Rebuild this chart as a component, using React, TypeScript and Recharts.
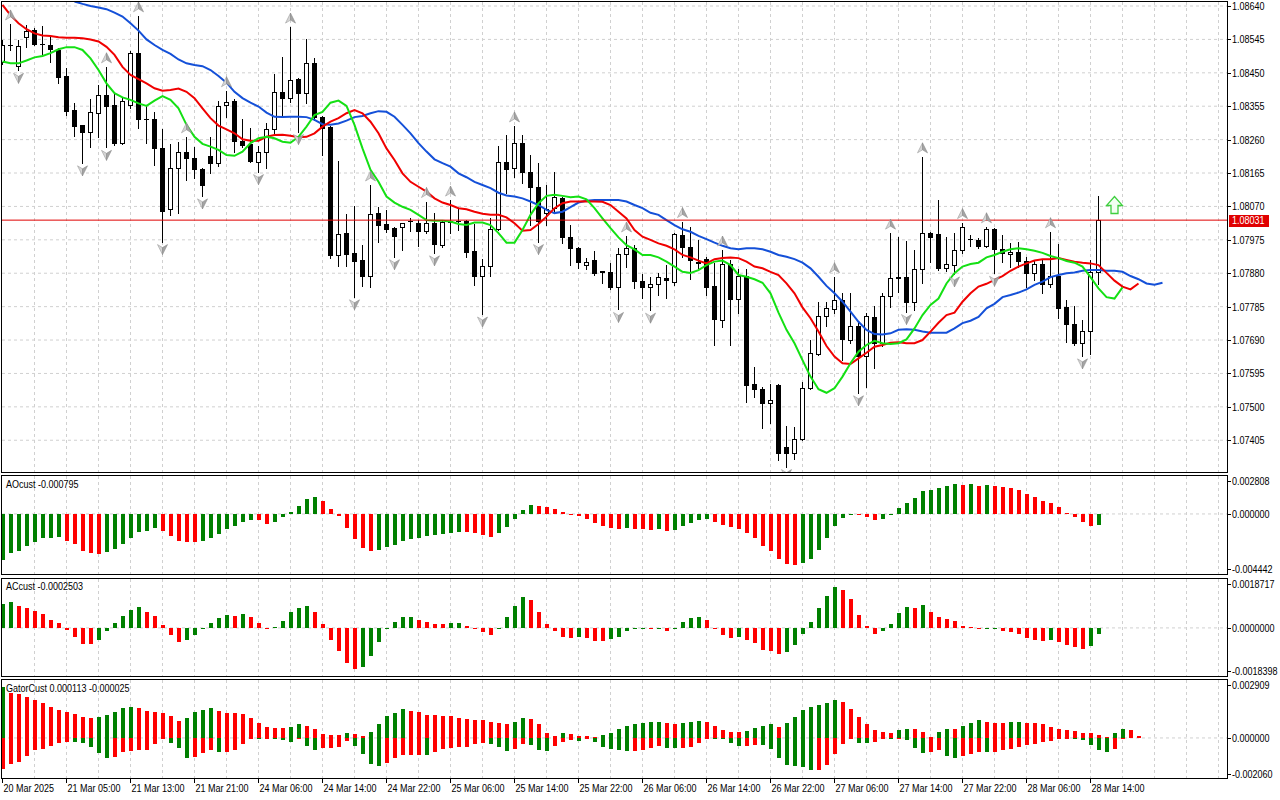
import React from "react";
import { ComposedChart, Bar, Line, Scatter, XAxis, YAxis, ReferenceLine, CartesianGrid } from "recharts";

const FONT = "'Liberation Sans',Arial,'DejaVu Sans',sans-serif";
const FS = 11;
const SQUEEZE = 0.82;

// ---------- candles (EURUSD H1) ----------
const opens = [
  1.08482,1.08530,1.08469,1.08551,1.08572,1.08531,1.08529,1.08515,1.08441,1.08344,
  1.08302,1.08283,1.08337,1.08387,1.08359,1.08251,1.08359,1.08506,1.08318,1.08319,
  1.08235,1.08062,1.08178,1.08224,1.08207,1.08176,1.08213,1.08194,1.08359,1.08371,
  1.08257,1.08248,1.08197,1.08226,1.08289,1.08395,1.08378,1.08432,1.08392,1.08479,
  1.08325,1.08297,1.07932,1.07994,1.07937,1.07918,1.07872,1.08050,1.08020,1.08008,
  1.08012,1.08028,1.08024,1.08001,1.08022,1.07960,1.08027,1.08029,1.08029,1.07943,
  1.07872,1.07901,1.08006,1.08197,1.08178,1.08250,1.08167,1.08124,1.08050,1.08065,
  1.08093,1.07982,1.07951,1.07903,1.07918,1.07885,1.07884,1.07840,1.07935,1.07951,
  1.07858,1.07840,1.07849,1.07867,1.07856,1.07989,1.07955,1.07908,1.07920,1.07844,
  1.07747,1.07905,1.07806,1.07873,1.07565,1.07550,1.07512,1.07562,1.07385,1.07368,
  1.07408,1.07553,1.07650,1.07758,1.07778,1.07804,1.07690,1.07730,1.07645,1.07755,
  1.07681,1.07815,1.07870,1.07870,1.07799,1.07891,1.07994,1.07991,1.07894,1.07903,
  1.07946,1.07977,1.07975,1.07957,1.08005,1.07948,1.07935,1.07941,1.07916,1.07881,
  1.07905,1.07849,1.07872,1.07783,1.07736,1.07682,1.07717,1.07884,
];
const highs = [
  1.08543,1.08589,1.08543,1.08586,1.08577,1.08583,1.08553,1.08521,1.08463,1.08364,
  1.08303,1.08375,1.08415,1.08467,1.08392,1.08382,1.08513,1.08612,1.08356,1.08339,
  1.08289,1.08248,1.08254,1.08268,1.08240,1.08178,1.08267,1.08371,1.08399,1.08375,
  1.08318,1.08292,1.08242,1.08306,1.08447,1.08496,1.08580,1.08434,1.08545,1.08491,
  1.08327,1.08299,1.08199,1.08048,1.08071,1.07960,1.08131,1.08068,1.08060,1.08012,
  1.08024,1.08036,1.08031,1.08084,1.08050,1.08031,1.08088,1.08062,1.08031,1.08020,
  1.07920,1.08036,1.08242,1.08273,1.08299,1.08273,1.08216,1.08193,1.08131,1.08167,
  1.08096,1.08017,1.07955,1.07922,1.07944,1.07886,1.07908,1.07951,1.07986,1.07960,
  1.07878,1.07869,1.07881,1.07903,1.07994,1.08027,1.08012,1.07975,1.07927,1.07908,
  1.07946,1.07918,1.07891,1.07891,1.07614,1.07556,1.07564,1.07564,1.07446,1.07442,
  1.07572,1.07690,1.07799,1.07799,1.07870,1.07825,1.07825,1.07742,1.07766,1.07787,
  1.07825,1.07994,1.07982,1.07973,1.07946,1.08211,1.07997,1.08088,1.07982,1.07994,
  1.08024,1.07989,1.07979,1.08012,1.08008,1.07989,1.07965,1.07968,1.07927,1.07918,
  1.07918,1.07998,1.07963,1.07804,1.07787,1.07747,1.07918,1.08100,
];
const lows = [
  1.08475,1.08515,1.08457,1.08524,1.08529,1.08504,1.08482,1.08420,1.08330,1.08270,
  1.08194,1.08240,1.08267,1.08238,1.08245,1.08248,1.08349,1.08292,1.08250,1.08188,
  1.07970,1.08046,1.08050,1.08145,1.08150,1.08100,1.08164,1.08186,1.08324,1.08226,
  1.08240,1.08196,1.08169,1.08178,1.08278,1.08330,1.08368,1.08283,1.08363,1.08316,
  1.08216,1.07922,1.07901,1.07901,1.07813,1.07844,1.07840,1.07970,1.07996,1.07927,
  1.07946,1.08001,1.07957,1.07994,1.07938,1.07955,1.07994,1.08003,1.07925,1.07847,
  1.07764,1.07872,1.08003,1.08109,1.08155,1.08137,1.08017,1.07970,1.08017,1.08050,
  1.07967,1.07903,1.07894,1.07891,1.07875,1.07853,1.07834,1.07777,1.07899,1.07837,
  1.07809,1.07775,1.07818,1.07810,1.07847,1.07927,1.07863,1.07894,1.07818,1.07676,
  1.07728,1.07676,1.07768,1.07515,1.07529,1.07439,1.07455,1.07349,1.07330,1.07351,
  1.07406,1.07550,1.07647,1.07730,1.07766,1.07633,1.07681,1.07540,1.07556,1.07610,
  1.07673,1.07785,1.07828,1.07771,1.07775,1.07853,1.07913,1.07889,1.07887,1.07878,
  1.07937,1.07957,1.07951,1.07954,1.07880,1.07913,1.07899,1.07899,1.07842,1.07861,
  1.07825,1.07842,1.07752,1.07685,1.07676,1.07645,1.07650,1.07849,
];
const closes = [
  1.08529,1.08529,1.08527,1.08570,1.08531,1.08532,1.08518,1.08439,1.08342,1.08299,
  1.08283,1.08338,1.08387,1.08356,1.08251,1.08371,1.08506,1.08318,1.08319,1.08235,
  1.08058,1.08178,1.08224,1.08207,1.08176,1.08130,1.08193,1.08356,1.08368,1.08257,
  1.08245,1.08199,1.08226,1.08289,1.08395,1.08378,1.08430,1.08392,1.08477,1.08325,
  1.08294,1.07932,1.07991,1.07935,1.07916,1.07872,1.08048,1.08017,1.08005,1.07986,
  1.08022,1.08029,1.08001,1.08022,1.07963,1.08027,1.08029,1.08028,1.07941,1.07872,
  1.07901,1.08006,1.08197,1.08176,1.08250,1.08169,1.08124,1.08029,1.08062,1.08096,
  1.07982,1.07951,1.07913,1.07911,1.07880,1.07884,1.07842,1.07935,1.07951,1.07858,
  1.07840,1.07849,1.07869,1.07861,1.07991,1.07955,1.07918,1.07913,1.07840,1.07749,
  1.07905,1.07806,1.07873,1.07562,1.07550,1.07510,1.07519,1.07370,1.07370,1.07408,
  1.07553,1.07652,1.07758,1.07780,1.07804,1.07692,1.07730,1.07645,1.07758,1.07681,
  1.07815,1.07866,1.07866,1.07799,1.07891,1.07994,1.07984,1.07894,1.07906,1.07946,
  1.08011,1.07978,1.07957,1.08005,1.07948,1.07937,1.07941,1.07916,1.07881,1.07905,
  1.07849,1.07872,1.07780,1.07736,1.07682,1.07717,1.07884,1.08031,
];

// ---------- Bill Williams fractals (bar indexes) ----------
const upFractals = [1,13,17,23,28,36,46,53,56,64,78,85,90,104,111,115,120,123,131];
const downFractals = [2,10,13,20,25,32,37,44,49,54,60,67,77,81,98,107,113,119,124,135];

// ---------- Alligator (values at drawn positions, incl. forward shift) ----------
const jawStart = 9;
const jaw = [
  1.08653,1.08646,1.08640,1.08636,1.08631,1.08621,1.08610,1.08591,1.08570,1.08545,
  1.08529,1.08515,1.08504,1.08488,1.08477,1.08472,1.08469,1.08458,1.08441,1.08422,
  1.08396,1.08378,1.08365,1.08354,1.08337,1.08325,1.08324,1.08325,1.08325,1.08324,
  1.08316,1.08304,1.08302,1.08306,1.08314,1.08324,1.08327,1.08335,1.08341,1.08339,
  1.08325,1.08302,1.08278,1.08250,1.08226,1.08204,1.08193,1.08183,1.08164,1.08153,
  1.08140,1.08131,1.08122,1.08109,1.08101,1.08098,1.08093,1.08084,1.08074,1.08060,
  1.08051,1.08055,1.08068,1.08081,1.08086,1.08088,1.08088,1.08088,1.08088,1.08084,
  1.08074,1.08065,1.08052,1.08046,1.08031,1.08017,1.08005,1.07998,1.07986,1.07977,
  1.07967,1.07958,1.07951,1.07948,1.07951,1.07951,1.07948,1.07941,1.07932,1.07927,
  1.07920,1.07910,1.07894,1.07870,1.07844,1.07823,1.07799,1.07771,1.07742,1.07719,
  1.07707,1.07706,1.07709,1.07719,1.07721,1.07719,1.07714,1.07711,1.07711,1.07711,
  1.07723,1.07738,1.07745,1.07756,1.07780,1.07793,1.07812,1.07818,1.07825,1.07834,
  1.07847,1.07856,1.07869,1.07875,1.07880,1.07882,1.07887,1.07889,1.07889,1.07887,
  1.07887,1.07884,1.07872,1.07863,1.07851,1.07847,1.07853,
];
const teeth = [
  1.08643,1.08614,1.08591,1.08574,1.08562,1.08556,1.08555,1.08551,1.08550,1.08550,
  1.08548,1.08545,1.08539,1.08524,1.08501,1.08467,1.08444,1.08432,1.08420,1.08406,
  1.08399,1.08401,1.08405,1.08396,1.08378,1.08349,1.08321,1.08300,1.08289,1.08278,
  1.08261,1.08257,1.08257,1.08268,1.08273,1.08274,1.08271,1.08267,1.08268,1.08278,
  1.08297,1.08311,1.08321,1.08335,1.08344,1.08335,1.08311,1.08278,1.08235,1.08202,
  1.08164,1.08140,1.08126,1.08112,1.08093,1.08081,1.08074,1.08065,1.08062,1.08055,
  1.08049,1.08046,1.08046,1.08039,1.08022,1.08001,1.08003,1.08020,1.08041,1.08065,
  1.08079,1.08084,1.08084,1.08085,1.08084,1.08083,1.08074,1.08055,1.08036,1.08003,
  1.07984,1.07975,1.07965,1.07958,1.07948,1.07932,1.07925,1.07916,1.07908,1.07920,
  1.07923,1.07925,1.07923,1.07913,1.07899,1.07894,1.07884,1.07875,1.07851,1.07823,
  1.07783,1.07752,1.07714,1.07673,1.07643,1.07624,1.07622,1.07638,1.07654,1.07671,
  1.07676,1.07682,1.07684,1.07681,1.07681,1.07690,1.07714,1.07739,1.07761,1.07768,
  1.07799,1.07823,1.07842,1.07850,1.07861,1.07872,1.07887,1.07899,1.07908,1.07916,
  1.07920,1.07920,1.07923,1.07918,1.07913,1.07910,1.07908,1.07903,1.07881,1.07859,
  1.07842,1.07834,1.07851,
];
const lips = [
  1.08482,1.08477,1.08477,1.08485,1.08494,1.08498,1.08506,1.08517,1.08523,1.08523,
  1.08515,1.08491,1.08458,1.08420,1.08392,1.08380,1.08373,1.08363,1.08356,1.08371,
  1.08384,1.08373,1.08349,1.08302,1.08268,1.08248,1.08240,1.08231,1.08216,1.08214,
  1.08226,1.08250,1.08264,1.08268,1.08264,1.08254,1.08251,1.08268,1.08297,1.08330,
  1.08339,1.08365,1.08371,1.08356,1.08302,1.08235,1.08174,1.08140,1.08098,1.08081,
  1.08069,1.08060,1.08046,1.08031,1.08029,1.08029,1.08027,1.08020,1.08017,1.08024,
  1.08024,1.08017,1.07994,1.07967,1.07967,1.08003,1.08046,1.08079,1.08100,1.08103,
  1.08100,1.08096,1.08098,1.08090,1.08065,1.08036,1.08008,1.07982,1.07960,1.07948,
  1.07932,1.07932,1.07925,1.07913,1.07899,1.07884,1.07881,1.07889,1.07903,1.07913,
  1.07916,1.07903,1.07875,1.07870,1.07863,1.07853,1.07823,1.07768,1.07719,1.07681,
  1.07633,1.07586,1.07550,1.07540,1.07553,1.07586,1.07624,1.07657,1.07676,1.07688,
  1.07681,1.07679,1.07681,1.07692,1.07723,1.07761,1.07790,1.07808,1.07851,1.07880,
  1.07899,1.07906,1.07910,1.07925,1.07932,1.07941,1.07948,1.07951,1.07948,1.07944,
  1.07938,1.07929,1.07923,1.07915,1.07910,1.07899,1.07869,1.07837,1.07812,1.07808,
  1.07840,
];

// ---------- Awesome Oscillator ----------
const aoValues = [
  -0.00340,-0.00291,-0.00271,-0.00234,-0.00205,-0.00180,-0.00178,-0.00173,-0.00197,-0.00224,
  -0.00271,-0.00291,-0.00298,-0.00284,-0.00261,-0.00224,-0.00180,-0.00136,-0.00123,-0.00106,
  -0.00123,-0.00160,-0.00200,-0.00205,-0.00206,-0.00197,-0.00180,-0.00146,-0.00113,-0.00091,
  -0.00062,-0.00044,-0.00047,-0.00076,-0.00057,-0.00025,0.00017,0.00062,0.00109,0.00123,
  0.00099,0.00035,-0.00015,-0.00106,-0.00187,-0.00254,-0.00271,-0.00266,-0.00247,-0.00229,
  -0.00200,-0.00185,-0.00180,-0.00163,-0.00155,-0.00148,-0.00143,-0.00131,-0.00136,-0.00138,
  -0.00155,-0.00173,-0.00143,-0.00099,-0.00039,0.00030,0.00067,0.00062,0.00054,0.00039,
  0.00017,-0.00005,-0.00017,-0.00039,-0.00069,-0.00091,-0.00106,-0.00113,-0.00106,-0.00113,
  -0.00114,-0.00121,-0.00113,-0.00128,-0.00121,-0.00091,-0.00069,-0.00047,-0.00039,-0.00062,
  -0.00084,-0.00099,-0.00113,-0.00143,-0.00180,-0.00239,-0.00276,-0.00335,-0.00372,-0.00380,
  -0.00365,-0.00335,-0.00269,-0.00180,-0.00091,-0.00032,-0.00002,-0.00010,-0.00025,-0.00047,
  -0.00039,-0.00010,0.00047,0.00084,0.00121,0.00173,0.00180,0.00195,0.00210,0.00224,
  0.00217,0.00218,0.00210,0.00217,0.00210,0.00202,0.00195,0.00180,0.00150,0.00128,
  0.00099,0.00084,0.00054,0.00010,-0.00025,-0.00062,-0.00091,-0.000795,
];
const aoScale = { max: 0.002808, min: -0.004442 };

// ---------- Accelerator Oscillator ----------
const acValues = [
  0.00092,0.00100,0.00085,0.00077,0.00066,0.00054,0.00032,0.00019,-0.00009,-0.00036,
  -0.00060,-0.00061,-0.00045,-0.00013,0.00017,0.00047,0.00070,0.00080,0.00061,0.00045,
  0.00011,-0.00026,-0.00055,-0.00045,-0.00029,-0.00004,0.00019,0.00037,0.00048,0.00047,
  0.00054,0.00041,0.00019,-0.00006,0.00003,0.00028,0.00061,0.00077,0.00083,0.00061,
  0.00015,-0.00045,-0.00087,-0.00134,-0.00156,-0.00151,-0.00106,-0.00054,-0.00003,0.00023,
  0.00042,0.00043,0.00031,0.00023,0.00015,0.00014,0.00017,0.00019,0.00006,-0.00003,
  -0.00017,-0.00026,-0.00003,0.00042,0.00083,0.00119,0.00107,0.00061,0.00015,-0.00013,
  -0.00033,-0.00037,-0.00036,-0.00037,-0.00049,-0.00050,-0.00041,-0.00033,-0.00010,-0.00006,
  -0.00003,-0.00006,-0.00002,-0.00010,-0.00001,0.00023,0.00038,0.00042,0.00031,-0.00003,
  -0.00026,-0.00037,-0.00036,-0.00045,-0.00056,-0.00083,-0.00087,-0.00098,-0.00094,-0.00064,
  -0.00022,0.00023,0.00077,0.00123,0.00157,0.00146,0.00111,0.00050,0.00008,-0.00022,
  -0.00013,0.00015,0.00057,0.00080,0.00077,0.00088,0.00061,0.00042,0.00034,0.00027,
  0.00008,0.00004,-0.00006,-0.00003,-0.00001,-0.00010,-0.00014,-0.00022,-0.00037,-0.00045,
  -0.00049,-0.00048,-0.00054,-0.00064,-0.00072,-0.00079,-0.00068,-0.0002503,
];
const acScale = { max: 0.0018717, min: -0.0018398 };

// ---------- Gator Oscillator ----------
const gatorUpper = [
  0.002535,0.002248,0.002231,0.002079,0.001893,0.001741,0.001538,0.001386,0.001284,0.001183,
  0.001031,0.001014,0.001048,0.001132,0.001284,0.001487,0.001538,0.001487,0.001335,0.001284,
  0.001234,0.001082,0.000828,0.000980,0.001284,0.001386,0.001487,0.001335,0.001251,0.001234,
  0.001200,0.000980,0.000744,0.000575,0.000507,0.000490,0.000575,0.000676,0.000608,0.000473,
  0.000220,0.000169,0.000152,0.000254,0.000203,0.000101,0.000304,0.000693,0.001082,0.001234,
  0.001437,0.001369,0.001284,0.001132,0.001130,0.001115,0.001082,0.000980,0.000930,0.000913,
  0.000879,0.000777,0.000744,0.000676,0.000777,0.000980,0.000930,0.000676,0.000270,0.000118,
  0.000270,0.000220,0.000118,0.000085,0.000051,0.000169,0.000270,0.000473,0.000625,0.000676,
  0.000727,0.000777,0.000794,0.000727,0.000676,0.000727,0.000777,0.000828,0.000777,0.000625,
  0.000423,0.000321,0.000304,0.000372,0.000524,0.000625,0.000676,0.000575,0.000727,0.001031,
  0.001386,0.001538,0.001639,0.001741,0.001893,0.001791,0.001437,0.001031,0.000676,0.000423,
  0.000321,0.000270,0.000423,0.000473,0.000456,0.000321,0.000068,0.000321,0.000473,0.000456,
  0.000625,0.000727,0.000879,0.000777,0.000761,0.000727,0.000777,0.000794,0.000761,0.000727,
  0.000676,0.000575,0.000473,0.000423,0.000372,0.000270,0.000254,0.000169,0.000068,0.000270,
  0.000473,0.000423,0.000113,
];
const gatorLower = [
  -0.001572,-0.001284,-0.001183,-0.000930,-0.000625,-0.000541,-0.000423,-0.000270,-0.000186,-0.000220,
  -0.000270,-0.000473,-0.000777,-0.001031,-0.000963,-0.000727,-0.000642,-0.000625,-0.000608,-0.000321,
  -0.000068,-0.000270,-0.000524,-0.001031,-0.000946,-0.000761,-0.000625,-0.000727,-0.000693,-0.000592,
  -0.000304,-0.000034,-0.000051,-0.000017,-0.000034,-0.000118,-0.000186,-0.000034,-0.000406,-0.000608,
  -0.000490,-0.000489,-0.000473,-0.000152,-0.000406,-0.000828,-0.001301,-0.001420,-0.001251,-0.000997,
  -0.000879,-0.000845,-0.000840,-0.000862,-0.000710,-0.000541,-0.000490,-0.000456,-0.000439,-0.000321,
  -0.000237,-0.000287,-0.000439,-0.000642,-0.000541,-0.000321,-0.000355,-0.000592,-0.000642,-0.000423,
  -0.000186,-0.000085,-0.000135,-0.000051,-0.000220,-0.000439,-0.000541,-0.000592,-0.000676,-0.000642,
  -0.000592,-0.000490,-0.000389,-0.000490,-0.000524,-0.000490,-0.000439,-0.000237,-0.000051,-0.000052,
  -0.000068,-0.000254,-0.000423,-0.000389,-0.000338,-0.000372,-0.000541,-0.000997,-0.001352,-0.001386,
  -0.001437,-0.001606,-0.001600,-0.001352,-0.000794,-0.000287,-0.000017,-0.000237,-0.000254,-0.000186,
  -0.000051,-0.000068,-0.000034,-0.000101,-0.000490,-0.000744,-0.000693,-0.000625,-0.000896,-0.001031,
  -0.000896,-0.000794,-0.000693,-0.000727,-0.000693,-0.000625,-0.000541,-0.000439,-0.000338,-0.000287,
  -0.000220,-0.000135,-0.000051,-0.000017,-0.000034,-0.000101,-0.000338,-0.000592,-0.000693,-0.000541,
  -0.000025,
];
const gatorScale = { max: 0.002909, min: -0.002060 };

// ---------- axes ----------
const priceTicks = [
  1.08640,1.08545,1.08450,1.08355,1.08260,1.08165,1.08070,
  1.07975,1.07880,1.07785,1.07690,1.07595,1.07500,1.07405,
];
const bidPrice = 1.08031;
const signalArrows = [{ i: 139, y: 1.08051 }];
const timeTickIdx = [0,8,16,24,32,40,48,56,64,72,80,88,96,104,112,120,128,136];
const timeLabels = [
  "20 Mar 2025","21 Mar 05:00","21 Mar 13:00","21 Mar 21:00","24 Mar 06:00","24 Mar 14:00",
  "24 Mar 22:00","25 Mar 06:00","25 Mar 14:00","25 Mar 22:00","26 Mar 06:00","26 Mar 14:00",
  "26 Mar 22:00","27 Mar 06:00","27 Mar 14:00","27 Mar 22:00","28 Mar 06:00","28 Mar 14:00",
];

// ---------- layout ----------
const W = 1280;
const AXIS_W = 53;
const PLOT_RIGHT = W - AXIS_W;
const SLOTS = 153;
const X_DOMAIN: [number, number] = [-0.0625, 153.0625];
const PRICE_DOMAIN: [number, number] = [1.073147, 1.086514];
const GRID = "#d0d0d0";
const GREEN = "#008000";
const RED = "#ff0000";
const gridIdx = Array.from({ length: 38 }, (_, k) => (k + 1) * 4);

const rows = Array.from({ length: SLOTS }, (_, i) => {
  const has = i < opens.length;
  const gu = i < gatorUpper.length ? gatorUpper[i] : null;
  const gd = gu == null ? null : i < gatorLower.length ? gatorLower[i] : 0;
  return {
    i,
    o: has ? opens[i] : null,
    h: has ? highs[i] : null,
    l: has ? lows[i] : null,
    c: has ? closes[i] : null,
    jaw: i >= jawStart && i - jawStart < jaw.length ? jaw[i - jawStart] : null,
    teeth: i < teeth.length ? teeth[i] : null,
    lips: i < lips.length ? lips[i] : null,
    ao: i < aoValues.length ? aoValues[i] : null,
    aoUp: i === 0 || aoValues[i] > aoValues[i - 1],
    ac: i < acValues.length ? acValues[i] : null,
    acUp: i === 0 || acValues[i] > acValues[i - 1],
    gu,
    gd,
    guUp: i === 0 || (gatorUpper[i] ?? 0) > (gatorUpper[i - 1] ?? 0),
    gdUp: i > 0 && i < gatorLower.length && Math.abs(gatorLower[i]) > Math.abs(gatorLower[i - 1]),
  };
});

const upFrData = upFractals.map((i) => ({ i, y: highs[i] }));
const downFrData = downFractals.map((i) => ({ i, y: lows[i] }));

const snap = (v: number) => Math.round(v - 0.5) + 0.5;

// narrow (Tahoma-like) text: real SVG text squeezed horizontally
const NText = ({ x, y, fill = "#000", dy, children }: any) => (
  <text
    transform={`translate(${x} ${y}) scale(${SQUEEZE} 1)`}
    x={0}
    y={0}
    dy={dy}
    fill={fill}
    fontSize={FS}
    fontFamily={FONT}
    textAnchor="start"
  >
    {children}
  </text>
);

// grid generators working through the axis scales
const vGen = (props: any) => {
  const sc = props?.xAxis?.scale;
  if (typeof sc === "function") return gridIdx.map((k) => sc(k));
  const off = props.offset;
  return gridIdx.map((k) => off.left + ((k - X_DOMAIN[0]) / (X_DOMAIN[1] - X_DOMAIN[0])) * off.width);
};
const zeroGen = (scale: { max: number; min: number }) => (props: any) => {
  const sc = props?.yAxis?.scale;
  if (typeof sc === "function") return [sc(0)];
  const off = props.offset;
  return [off.top + (scale.max / (scale.max - scale.min)) * off.height];
};
const priceGen = (props: any) => {
  const sc = props?.yAxis?.scale;
  if (typeof sc === "function") return priceTicks.map((p) => sc(p));
  const off = props.offset;
  return priceTicks.map(
    (p) => off.top + ((PRICE_DOMAIN[1] - p) / (PRICE_DOMAIN[1] - PRICE_DOMAIN[0])) * off.height
  );
};

// ---------- shapes ----------
const Candle = (p: any) => {
  const { x, width, y, height, payload } = p;
  if (!payload || payload.o == null) return null;
  const { o, h, l, c } = payload;
  const cx = snap(x + width / 2);
  const span = h - l || 1e-9;
  const py = (v: number) => y + ((h - v) / span) * height;
  const bull = c >= o;
  const t = Math.round(py(Math.max(o, c))) + 0.5;
  const b = Math.round(py(Math.min(o, c))) + 0.5;
  const wt = Math.round(py(h));
  const wb = Math.round(py(l)) + 1;
  return (
    <g>
      <line x1={cx} x2={cx} y1={wt} y2={wb} stroke="#000" strokeWidth={1} />
      {b - t < 1 ? (
        <line x1={cx - 2.5} x2={cx + 2.5} y1={t} y2={t} stroke="#000" strokeWidth={1} />
      ) : (
        <rect x={cx - 2} y={t} width={4} height={b - t} fill={bull ? "#fff" : "#000"} stroke="#000" strokeWidth={1} />
      )}
    </g>
  );
};

const FractalUp = (p: any) => {
  const { cx, cy } = p;
  if (cx == null) return null;
  const x = snap(cx);
  const y0 = cy - 9;
  return (
    <g>
      <path d={`M${x},${y0 - 5} L${x},${y0 + 2} L${x - 5},${y0 + 5} Z`} fill="#d6d6d6" stroke="#9a9a9a" strokeWidth={0.6} />
      <path d={`M${x},${y0 - 5} L${x + 5},${y0 + 5} L${x},${y0 + 2} Z`} fill="#a4a4a4" stroke="#8c8c8c" strokeWidth={0.6} />
    </g>
  );
};

const FractalDown = (p: any) => {
  const { cx, cy } = p;
  if (cx == null) return null;
  const x = snap(cx);
  const y0 = cy + 8;
  return (
    <g>
      <path d={`M${x},${y0 + 5} L${x},${y0 - 2} L${x - 5},${y0 - 5} Z`} fill="#d6d6d6" stroke="#9a9a9a" strokeWidth={0.6} />
      <path d={`M${x},${y0 + 5} L${x + 5},${y0 - 5} L${x},${y0 - 2} Z`} fill="#a4a4a4" stroke="#8c8c8c" strokeWidth={0.6} />
    </g>
  );
};

const SignalArrow = (p: any) => {
  const { cx, cy } = p;
  if (cx == null) return null;
  const x = snap(cx);
  const b = Math.round(cy) + 0.5;
  const hb = b - 8;
  const top = b - 17;
  const d = `M${x - 3.5},${b} L${x - 3.5},${hb} L${x - 8},${hb} L${x},${top} L${x + 8},${hb} L${x + 3.5},${hb} L${x + 3.5},${b} Z`;
  return <path d={d} fill="#f2fff2" stroke="#3fcf3f" strokeWidth={1.3} />;
};

const histShape = (upKey: string) => (p: any) => {
  const { x, width, y, height, payload } = p;
  if (!payload) return null;
  const cx = snap(x + width / 2);
  const t = Math.round(Math.min(y, y + height));
  let b = Math.round(Math.max(y, y + height));
  if (b - t < 1) b = t + 1;
  return <rect x={cx - 1.5} y={t} width={4} height={b - t} fill={payload[upKey] ? GREEN : RED} />;
};

const GatorShape = (p: any) => {
  const { x, width, y, height, payload } = p;
  if (!payload || payload.gu == null) return null;
  const { gu, gd } = payload;
  const cx = snap(x + width / 2);
  const span = gu - gd;
  if (span <= 0) return null;
  const zero = Math.round(y + (gu / span) * height);
  const top = Math.round(y);
  const bot = Math.round(y + height);
  return (
    <g>
      {gu > 0 && <rect x={cx - 1.5} y={top} width={4} height={Math.max(1, zero - top)} fill={payload.guUp ? GREEN : RED} />}
      {gd < 0 && <rect x={cx - 1.5} y={zero} width={4} height={Math.max(1, bot - zero)} fill={payload.gdUp ? GREEN : RED} />}
    </g>
  );
};

// ---------- ticks ----------
const PriceTick = (p: any) => {
  const { y, payload } = p;
  const v = payload.value;
  const yy = Math.round(y) + 0.5;
  if (v === bidPrice) {
    return (
      <g>
        <rect x={PLOT_RIGHT + 2} y={Math.round(y) - 5} width={40} height={12} fill="#e00000" />
        <NText x={PLOT_RIGHT + 5} y={yy} dy="0.36em" fill="#fff">{v.toFixed(5)}</NText>
      </g>
    );
  }
  return (
    <g>
      <line x1={PLOT_RIGHT} x2={PLOT_RIGHT + 4} y1={yy} y2={yy} stroke="#000" />
      <NText x={PLOT_RIGHT + 5} y={yy} dy="0.36em">{v.toFixed(5)}</NText>
    </g>
  );
};

const makeSubTick = (min: number, max: number, digits: number) => (p: any) => {
  const { y, payload } = p;
  const v = payload.value;
  let ty = Math.round(y) + 0.5;
  if (v === max) ty += 5;
  else if (v === min) ty -= 5;
  return (
    <g>
      <line x1={PLOT_RIGHT} x2={PLOT_RIGHT + 4} y1={ty} y2={ty} stroke="#000" />
      <NText x={PLOT_RIGHT + 5} y={ty} dy="0.36em">{v.toFixed(digits)}</NText>
    </g>
  );
};

const TimeTick = (p: any) => {
  const { x, payload } = p;
  const k = timeTickIdx.indexOf(payload.value);
  return <NText x={x + 1} y={114}>{timeLabels[k]}</NText>;
};

const subChart = (
  top: number,
  height: number,
  key: string,
  upKey: string,
  scale: { max: number; min: number },
  digits: number
) => (
  <div style={{ position: "absolute", left: 0, top }}>
    <ComposedChart width={W} height={height} data={rows} margin={{ top: 2, right: 0, bottom: 2, left: 2 }}>
      <CartesianGrid stroke={GRID} strokeDasharray="3 3" verticalCoordinatesGenerator={vGen} horizontalCoordinatesGenerator={zeroGen(scale)} />
      <XAxis type="number" dataKey="i" domain={X_DOMAIN} hide allowDataOverflow />
      <YAxis
        orientation="right"
        width={AXIS_W}
        domain={[scale.min, scale.max]}
        allowDataOverflow
        ticks={[scale.max, 0, scale.min]}
        interval={0}
        tickLine={false}
        axisLine={false}
        tick={makeSubTick(scale.min, scale.max, digits)}
      />
      <Bar
        dataKey={(d: any) => (d[key] == null ? null : [Math.min(0, d[key]), Math.max(0, d[key])])}
        barSize={4}
        shape={histShape(upKey)}
        isAnimationActive={false}
      />
    </ComposedChart>
  </div>
);

export default function App() {
  const lastAo = aoValues[aoValues.length - 1];
  const lastAc = acValues[acValues.length - 1];
  const lastGu = gatorUpper[gatorUpper.length - 1];
  const lastGd = gatorLower[gatorLower.length - 1];
  return (
    <div style={{ position: "absolute", left: 0, top: 0, width: W, height: 800, background: "#fff", overflow: "hidden", fontFamily: FONT }}>
      {/* main price chart */}
      <div style={{ position: "absolute", left: 0, top: 0 }}>
        <ComposedChart width={W} height={474} data={rows} margin={{ top: 2, right: 0, bottom: 2, left: 2 }}>
          <CartesianGrid stroke={GRID} strokeDasharray="3 3" verticalCoordinatesGenerator={vGen} horizontalCoordinatesGenerator={priceGen} />
          <XAxis type="number" dataKey="i" domain={X_DOMAIN} hide allowDataOverflow />
          <YAxis
            orientation="right"
            width={AXIS_W}
            domain={PRICE_DOMAIN}
            allowDataOverflow
            ticks={[...priceTicks, bidPrice]}
            interval={0}
            tickLine={false}
            axisLine={false}
            tick={PriceTick}
          />
          <Bar
            dataKey={(d: any) => (d.h == null ? null : [d.l, d.h])}
            barSize={5}
            shape={Candle}
            isAnimationActive={false}
          />
          <Line type="linear" dataKey="jaw" stroke="#1450d8" strokeWidth={2} dot={false} activeDot={false} isAnimationActive={false} />
          <Line type="linear" dataKey="teeth" stroke="#f00000" strokeWidth={2} dot={false} activeDot={false} isAnimationActive={false} />
          <Line type="linear" dataKey="lips" stroke="#14e014" strokeWidth={2} dot={false} activeDot={false} isAnimationActive={false} />
          <ReferenceLine y={bidPrice} stroke="#e00000" strokeWidth={1} />
          <Scatter data={upFrData} dataKey="y" shape={FractalUp} isAnimationActive={false} />
          <Scatter data={downFrData} dataKey="y" shape={FractalDown} isAnimationActive={false} />
          <Scatter data={signalArrows} dataKey="y" shape={SignalArrow} isAnimationActive={false} />
        </ComposedChart>
      </div>

      {subChart(474, 102, "ao", "aoUp", aoScale, 6)}
      {subChart(577, 101, "ac", "acUp", acScale, 7)}

      {/* gator + time axis */}
      <div style={{ position: "absolute", left: 0, top: 678 }}>
        <ComposedChart width={W} height={122} data={rows} margin={{ top: 2, right: 0, bottom: 0, left: 2 }}>
          <CartesianGrid stroke={GRID} strokeDasharray="3 3" verticalCoordinatesGenerator={vGen} horizontalCoordinatesGenerator={zeroGen(gatorScale)} />
          <XAxis
            type="number"
            dataKey="i"
            domain={X_DOMAIN}
            allowDataOverflow
            ticks={timeTickIdx}
            interval={0}
            height={21}
            tickSize={4}
            tickLine={{ stroke: "#000" }}
            axisLine={false}
            tick={TimeTick}
          />
          <YAxis
            orientation="right"
            width={AXIS_W}
            domain={[gatorScale.min, gatorScale.max]}
            allowDataOverflow
            ticks={[gatorScale.max, 0, gatorScale.min]}
            interval={0}
            tickLine={false}
            axisLine={false}
            tick={makeSubTick(gatorScale.min, gatorScale.max, 6)}
          />
          <Bar
            dataKey={(d: any) => (d.gu == null ? null : [d.gd, d.gu])}
            barSize={4}
            shape={GatorShape}
            isAnimationActive={false}
          />
        </ComposedChart>
      </div>

      {/* panel frames and captions */}
      <svg width={W} height={800} style={{ position: "absolute", left: 0, top: 0, pointerEvents: "none" }}>
        <rect x={1.5} y={1.5} width={PLOT_RIGHT - 1} height={471} fill="none" stroke="#000" />
        <rect x={1.5} y={475.5} width={PLOT_RIGHT - 1} height={99} fill="none" stroke="#000" />
        <rect x={1.5} y={578.5} width={PLOT_RIGHT - 1} height={98} fill="none" stroke="#000" />
        <rect x={1.5} y={679.5} width={PLOT_RIGHT - 1} height={99} fill="none" stroke="#000" />
        <NText x={6} y={488}>{`AOcust ${lastAo.toFixed(6)}`}</NText>
        <NText x={6} y={590}>{`ACcust ${lastAc.toFixed(7)}`}</NText>
        <NText x={6} y={692}>{`GatorCust ${lastGu.toFixed(6)} ${lastGd.toFixed(6)}`}</NText>
      </svg>
    </div>
  );
}
